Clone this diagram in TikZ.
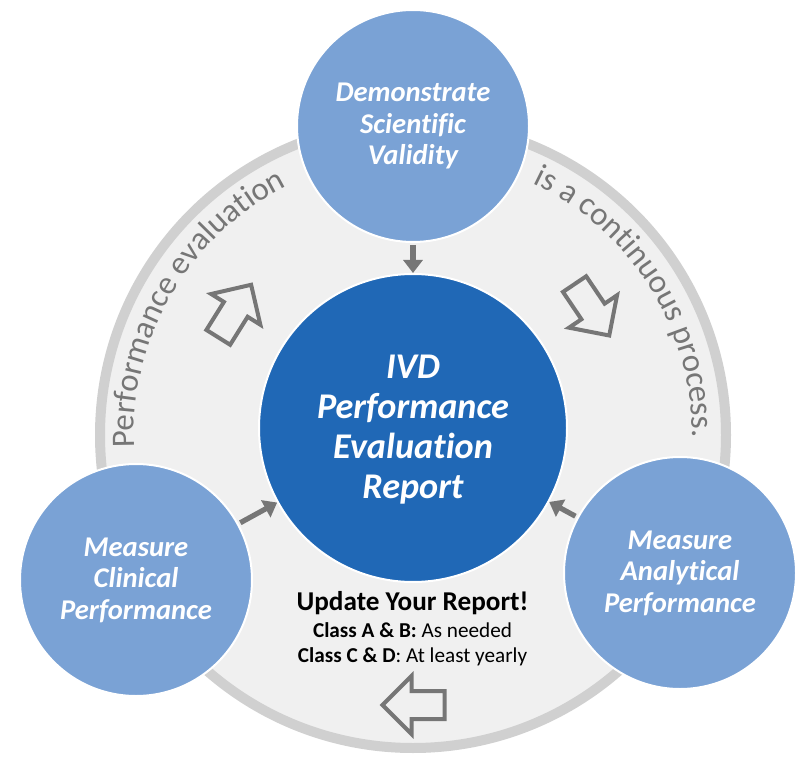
\documentclass[tikz,border=0pt]{standalone}
\usepackage{fontspec}
\setmainfont[Ligatures=CommonOff]{Carlito}
\usetikzlibrary{arrows.meta,decorations.text,shapes.arrows}

\definecolor{ringgray}{HTML}{D0D0D0}
\definecolor{discgray}{HTML}{F0F0F0}
\definecolor{markgray}{HTML}{767676}
\definecolor{lightblue}{HTML}{7AA2D5}
\definecolor{darkblue}{HTML}{2068B6}

\tikzset{
  stage/.style={circle,fill=lightblue,draw=white,line width=1pt,minimum size=116pt,inner sep=0pt,
    text=white,align=center,font=\fontsize{14.3}{15.7}\selectfont\bfseries\itshape},
  hollow/.style={single arrow,draw=markgray,line width=2pt,fill=none,inner xsep=0pt,inner ysep=6pt,
    minimum height=31pt,minimum width=27pt,single arrow head extend=7.5pt,single arrow head indent=0pt},
  feed/.style={draw=markgray,line width=2.6pt,-{Triangle[length=6.5pt,width=9.5pt]}},
  roundtext/.style={decorate,decoration={text along path,text align=center,
    text={|\fontsize{16.4}{16}\selectfont\color{markgray}|#1}}},
}

\begin{document}
\begin{tikzpicture}[x=0.5pt,y=0.5pt]
  \useasboundingbox (0,0) rectangle (809,762);

  \coordinate (C) at (413,327);

  % the disc and its rim
  \fill [discgray] (C) circle (313);
  \draw [ringgray,line width=5pt] (C) circle (313);

  % curved sentence
  \path [roundtext={Performance evaluation}] (C) ++(187:279) arc [start angle=187,end angle=112.5,radius=279];
  \path [roundtext={is a continuous process.}] (C) ++(72:279) arc [start angle=72,end angle=-8,radius=279];

  % the four circles
  \node [circle,fill=darkblue,draw=white,line width=1pt,minimum size=154pt,inner sep=0pt,text=white,align=center,
    font=\fontsize{18.1}{20}\selectfont\bfseries\itshape] (report) at (413,334) {\rule{0pt}{13.6pt}IVD\\Performance\\Evaluation\\Report};
  \node [stage] (validity) at (413,636) {Demonstrate\\Scientific\\Validity};
  \node [stage] (clinical) at (136,182) {Measure\\Clinical\\Performance};
  \node [stage] (analytical) at (680,189) {Measure\\Analytical\\Performance};

  \draw [feed,shorten <=1pt] (validity) -- (report);
  \draw [feed,shorten <=1pt] (clinical) -- (report);
  \draw [feed,shorten <=1pt] (analytical) -- (report);

  % hollow arrows
  \node [hollow,rotate=58] (up) at (231,445) {};
  \node [hollow,rotate=-56] (down) at (588,458) {};
  \node [hollow,rotate=180] (back) at (420.5,57) {};

  \node [align=center,inner sep=0pt,font=\fontsize{10.6}{12.5}\selectfont] (update) at (412.5,133)
    {{\fontsize{13.6}{16}\selectfont\bfseries Update Your Report!}\\[1pt]
     \textbf{Class A \& B:} As needed\\
     \textbf{Class C \& D}: At least yearly};
\end{tikzpicture}
\end{document}
